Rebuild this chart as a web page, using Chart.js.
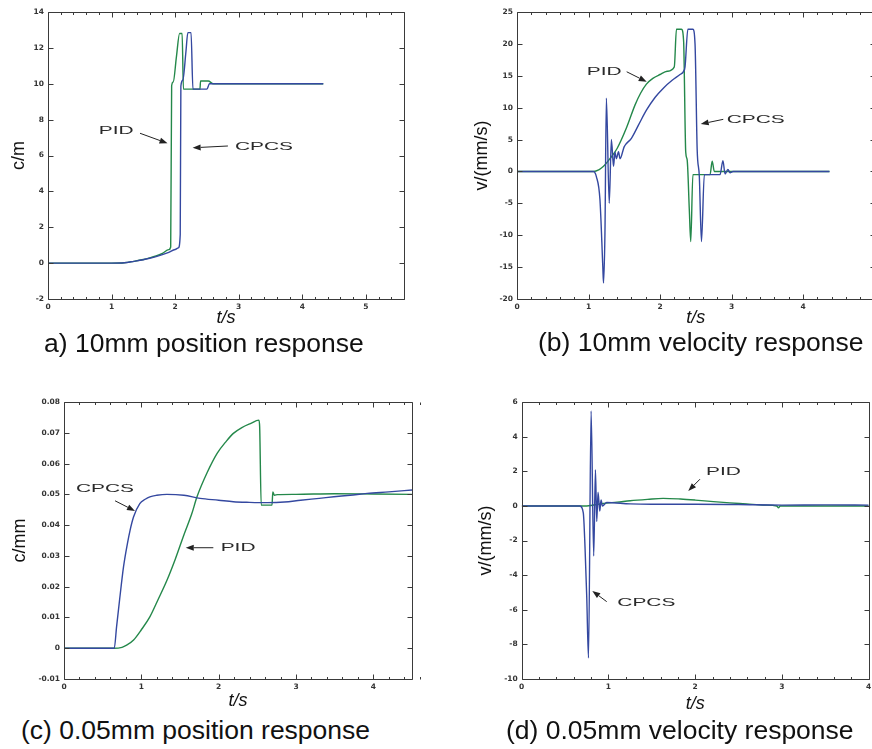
<!DOCTYPE html>
<html><head><meta charset="utf-8">
<script src="https://cdn.jsdelivr.net/npm/chart.js@4.4.1/dist/chart.umd.min.js"></script>
<style>
html,body{margin:0;padding:0;background:#fff;width:872px;height:749px;overflow:hidden;position:relative;}
canvas{position:absolute;}
.cap{position:absolute;font-family:'Liberation Sans',Arial,sans-serif;font-size:26.5px;line-height:26.5px;color:#111;white-space:nowrap;}
</style></head><body>
<canvas id="cA"></canvas>
<canvas id="cB"></canvas>
<canvas id="cC"></canvas>
<canvas id="cD"></canvas>
<div class="cap" style="left:44px;top:330px">a) 10mm position response</div>
<div class="cap" style="left:538px;top:329px">(b) 10mm velocity response</div>
<div class="cap" style="left:21px;top:717px">(c) 0.05mm position response</div>
<div class="cap" style="left:506px;top:717px">(d) 0.05mm velocity response</div>
<script>
// ---------- data (a) 10mm position ----------
const aTimePID  = [0, 1.0, 1.2, 1.35, 1.5, 1.6, 1.7, 1.8, 1.9, 1.93, 1.945, 1.97, 2.02, 2.07, 2.11, 2.13, 2.39, 2.4, 2.52, 2.6, 4.33];
const aPID      = [0, 0, 0.02, 0.1, 0.2, 0.29, 0.4, 0.55, 0.75, 0.9, 9.9, 10.1, 11.5, 12.8, 12.8, 9.7, 9.7, 10.15, 10.15, 10.0, 10.0];
const aTimeCPCS = [0, 1.0, 1.2, 1.35, 1.5, 1.6, 1.7, 1.8, 1.9, 2.0, 2.05, 2.08, 2.09, 2.12, 2.17, 2.2, 2.25, 2.28, 2.5, 2.54, 4.33];
const aCPCS     = [0, 0, 0.02, 0.1, 0.19, 0.27, 0.36, 0.47, 0.6, 0.76, 0.85, 1.6, 9.86, 10.2, 11.8, 12.85, 12.85, 9.7, 9.7, 10.0, 10.0];
const aXLabels  = ['0','1','2','3','4','5'];
const aYLabels  = ['-2','0','2','4','6','8','10','12','14'];

// ---------- data (b) 10mm velocity ----------
const bTimePID  = [0, 1.07, 1.15, 1.21, 1.3, 1.4, 1.53, 1.65, 1.73, 1.81, 1.9, 2.0, 2.1, 2.2, 2.23, 2.3, 2.33, 2.36, 2.38, 2.41, 2.43, 2.46, 2.7, 2.73, 2.76, 2.78, 4.37];
const bPID      = [0, 0, 0.3, 0.8, 2.0, 3.6, 6.8, 10.4, 12.3, 13.7, 14.6, 15.2, 15.7, 16.4, 22.3, 22.3, 20.5, 3.0, 1.8, -6, -11, -0.5, -0.5, 1.6, 0.0, 0.0, 0.0];
const bTimeCPCS = [0, 1.07, 1.11, 1.16, 1.2, 1.21, 1.23, 1.25, 1.29, 1.32, 1.35, 1.37, 1.39, 1.42, 1.44, 1.5, 1.6, 1.7, 1.81, 1.93, 2.05, 2.17, 2.28, 2.33, 2.35, 2.39, 2.46, 2.49, 2.52, 2.55, 2.58, 2.62, 2.84, 2.88, 2.91, 2.95, 2.98, 3.02, 4.37];
const bCPCS     = [0, 0, -0.8, -4.4, -14.9, -17.5, -9.7, 11.5, -5.0, 5.0, 0.8, 3.0, 2.0, 3.1, 2.0, 3.9, 5.2, 7.3, 9.6, 11.6, 13.1, 14.3, 15.2, 15.7, 16.4, 22.3, 22.3, 20.0, 3.4, -0.8, -11, -0.5, -0.5, 1.7, -0.4, 0.3, -0.2, 0, 0];
const bXLabels  = ['0','1','2','3','4','5'];
const bYLabels  = ['-20','-15','-10','-5','0','5','10','15','20','25'];

// ---------- data (c) 0.05mm position ----------
const cTimePID  = [0, 0.64, 0.75, 0.81, 0.9, 1.0, 1.11, 1.22, 1.33, 1.44, 1.55, 1.65, 1.72, 1.85, 1.98, 2.1, 2.19, 2.3, 2.41, 2.52, 2.53, 2.55, 2.69, 2.7, 2.72, 2.76, 3.0, 3.5, 4.0, 4.5];
const cPID      = [0, 0, 0.0003, 0.001, 0.0027, 0.006, 0.0102, 0.016, 0.022, 0.029, 0.0368, 0.0435, 0.0492, 0.057, 0.0633, 0.0673, 0.0698, 0.0717, 0.073, 0.0741, 0.072, 0.0465, 0.0465, 0.0508, 0.0497, 0.0499, 0.05, 0.0502, 0.0501, 0.05];
const cTimeCPCS = [0, 0.65, 0.68, 0.72, 0.77, 0.82, 0.855, 0.9, 0.98, 1.05, 1.11, 1.2, 1.33, 1.55, 1.76, 2.0, 2.19, 2.4, 2.63, 2.85, 3.06, 3.3, 3.49, 3.7, 3.92, 4.2, 4.5];
const cCPCS     = [0, 0, 0.007, 0.016, 0.0265, 0.034, 0.0384, 0.0427, 0.047, 0.0484, 0.0492, 0.0497, 0.05, 0.0497, 0.0487, 0.0481, 0.0476, 0.0474, 0.0473, 0.0475, 0.0481, 0.0487, 0.0492, 0.0497, 0.0503, 0.0508, 0.0514];
const cXLabels  = ['0','1','2','3','4'];
const cYLabels  = ['-0.01','0','0.01','0.02','0.03','0.04','0.05','0.06','0.07','0.08'];

// ---------- data (d) 0.05mm velocity ----------
const dTimePID  = [0, 0.75, 0.94, 1.1, 1.25, 1.45, 1.63, 1.83, 2.0, 2.21, 2.4, 2.59, 2.8, 2.94, 2.96, 2.98, 4.0];
const dPID      = [0, 0, 0.15, 0.22, 0.3, 0.38, 0.44, 0.4, 0.34, 0.25, 0.18, 0.12, 0.05, 0, -0.1, 0, 0];
const dTimeCPCS = [0, 0.67, 0.71, 0.73, 0.75, 0.77, 0.8, 0.83, 0.85, 0.865, 0.88, 0.9, 0.915, 0.93, 0.98, 1.25, 1.5, 2.0, 2.5, 3.0, 3.5, 4.0];
const dCPCS     = [0, 0, -0.4, -2.4, -5.3, -8.8, 5.5, -2.9, 2.1, -0.9, 0.8, -0.3, 0.35, 0.0, 0.2, 0.12, 0.1, 0.1, 0.08, 0.05, 0.06, 0.05];
const dXLabels  = ['0','1','2','3','4'];
const dYLabels  = ['-10','-8','-6','-4','-2','0','2','4','6'];

const seriesNames = ['CPCS', 'PID'];

// ---------- styling / layout ----------
const BLUE = '#3448a0', GREEN = '#24884a';
const FAM = "'Liberation Sans', Arial, sans-serif";

function framePlugin(spec){
  return {
    id: 'frame' + spec.id,
    afterDatasetsDraw(chart){
      const ctx = chart.ctx, a = chart.chartArea, xs = chart.scales.x, ys = chart.scales.y;
      ctx.save();
      ctx.strokeStyle = '#3a3a3a'; ctx.lineWidth = 1;
      const l = Math.round(a.left)+0.5, t = Math.round(a.top)+0.5, r = Math.round(a.right)+0.5, b = Math.round(a.bottom)+0.5;
      ctx.beginPath(); ctx.rect(l, t, r-l, b-t); ctx.stroke();
      ctx.beginPath();
      const nMinor = Math.round((spec.xMax - spec.xMin) / 0.2);
      for (let i = 0; i <= nMinor; i++){
        const v = spec.xMin + i*0.2;
        const major = (i % 5) === 0;
        const len = major ? 5 : 2.5;
        const px = Math.round(xs.getPixelForValue(v)) + 0.5;
        ctx.moveTo(px, b); ctx.lineTo(px, b-len);
        ctx.moveTo(px, t); ctx.lineTo(px, t+len);
      }
      ys.ticks.forEach(tk => {
        const py = Math.round(ys.getPixelForValue(tk.value)) + 0.5;
        ctx.moveTo(l, py); ctx.lineTo(l+5, py);
        ctx.moveTo(r, py); ctx.lineTo(r-5, py);
      });
      ctx.stroke();
      spec.notes.forEach(n => {
        const x1 = xs.getPixelForValue(n.from[0]), y1 = ys.getPixelForValue(n.from[1]);
        const x2 = xs.getPixelForValue(n.to[0]),   y2 = ys.getPixelForValue(n.to[1]);
        ctx.strokeStyle = '#222'; ctx.fillStyle = '#222'; ctx.lineWidth = 1;
        const ang = Math.atan2(y2-y1, x2-x1), hl = 8, hw = 3;
        const bx = x2 - hl*Math.cos(ang), by = y2 - hl*Math.sin(ang);
        ctx.beginPath(); ctx.moveTo(x1, y1); ctx.lineTo(bx, by); ctx.stroke();
        ctx.beginPath();
        ctx.moveTo(x2, y2);
        ctx.lineTo(bx + hw*Math.sin(ang), by - hw*Math.cos(ang));
        ctx.lineTo(bx - hw*Math.sin(ang), by + hw*Math.cos(ang));
        ctx.closePath(); ctx.fill();
        const tx = xs.getPixelForValue(n.at[0]), ty = ys.getPixelForValue(n.at[1]);
        ctx.save();
        ctx.translate(tx, ty); ctx.scale(1.9, 1);
        ctx.font = '11px ' + FAM; ctx.textAlign = 'left'; ctx.textBaseline = 'middle';
        ctx.fillStyle = '#2a2a2a';
        ctx.fillText(n.text, 0, 0);
        ctx.restore();
      });
      ctx.restore();
    }
  };
}

function build(spec){
  const el = document.getElementById(spec.id);
  const [bl, bt, W, H] = spec.box;
  const [L, T, R, B] = spec.area;
  el.width = W; el.height = H;
  el.style.left = bl + 'px'; el.style.top = bt + 'px';
  el.style.width = W + 'px'; el.style.height = H + 'px';
  const yW = L - bl, padTop = T - bt, padRight = bl + W - R, xH = bt + H - B;
  const xVals = spec.xLabels.map(Number), yVals = spec.yLabels.map(Number);
  const tickFont = {family: "'DejaVu Sans', sans-serif", size: 7.5, weight: 'bold'};
  new Chart(el, {
    type: 'line',
    data: {
      datasets: spec.series.map(s => ({
        label: s.label,
        data: s.t.map((t, i) => ({x: t, y: s.v[i]})),
        borderColor: s.color, borderWidth: 1.4, pointRadius: 0,
        cubicInterpolationMode: 'monotone', fill: false
      }))
    },
    options: {
      responsive: false, animation: false, devicePixelRatio: 1,
      layout: {padding: {left: 0, top: padTop, right: padRight, bottom: 0}},
      plugins: {legend: {display: false}, tooltip: {enabled: false}},
      scales: {
        x: {
          type: 'linear', min: spec.xMin, max: spec.xMax,
          afterFit: s => { s.height = xH; },
          afterBuildTicks: s => { s.ticks = xVals.map(v => ({value: v})); },
          grid: {display: false, drawTicks: false}, border: {display: false},
          ticks: {padding: 4, font: tickFont, color: '#333', maxRotation: 0, autoSkip: false,
                  callback: (v, i) => spec.xLabels[i]},
          title: {display: true, text: spec.xTitle, color: '#111',
                  font: {family: FAM, size: 18, style: 'italic'},
                  padding: {top: 0, bottom: spec.xTitlePad}}
        },
        y: {
          type: 'linear', min: spec.yMin, max: spec.yMax,
          afterFit: s => { s.width = yW; },
          afterBuildTicks: s => { s.ticks = yVals.map(v => ({value: v})); },
          grid: {display: false, drawTicks: false}, border: {display: false},
          ticks: {padding: 4, font: tickFont, color: '#333', autoSkip: false,
                  callback: (v, i) => spec.yLabels[i]},
          title: {display: true, text: spec.yTitle, color: '#111',
                  font: {family: FAM, size: 18},
                  padding: {top: spec.yTitlePad, bottom: 0}}
        }
      }
    },
    plugins: [framePlugin(spec)]
  });
}

build({
  id: 'cA', box: [0, 0, 440, 334], area: [48, 12, 404, 299],
  xMin: 0, xMax: 5.6, yMin: -2, yMax: 14,
  xLabels: aXLabels, yLabels: aYLabels,
  xTitle: 't/s', yTitle: 'c/m', xTitlePad: 5.2, yTitlePad: 8.2,
  series: [
    {label: seriesNames[0], t: aTimeCPCS, v: aCPCS, color: BLUE},
    {label: seriesNames[1], t: aTimePID, v: aPID, color: GREEN}
  ],
  notes: [
    {text: 'PID',  at: [0.80, 7.35], from: [1.447, 7.24], to: [1.88, 6.68]},
    {text: 'CPCS', at: [2.94, 6.49], from: [2.83, 6.53], to: [2.275, 6.43]}
  ]
});

build({
  id: 'cB', box: [460, 0, 430, 334], area: [517, 12, 874.5, 299],
  xMin: 0, xMax: 5, yMin: -20, yMax: 25,
  xLabels: bXLabels, yLabels: bYLabels,
  xTitle: 't/s', yTitle: 'v/(mm/s)', xTitlePad: 5.2, yTitlePad: 10.9,
  series: [
    {label: seriesNames[0], t: bTimeCPCS, v: bCPCS, color: BLUE},
    {label: seriesNames[1], t: bTimePID, v: bPID, color: GREEN}
  ],
  notes: [
    {text: 'PID',  at: [0.975, 15.55], from: [1.534, 15.63], to: [1.814, 14.06]},
    {text: 'CPCS', at: [2.933, 8.06], from: [2.885, 8.17], to: [2.569, 7.43]}
  ]
});

build({
  id: 'cC', box: [0, 380, 440, 334], area: [64, 402, 412, 679],
  xMin: 0, xMax: 4.5, yMin: -0.01, yMax: 0.08,
  xLabels: cXLabels, yLabels: cYLabels,
  xTitle: 't/s', yTitle: 'c/mm', xTitlePad: 2.4, yTitlePad: 9.2,
  series: [
    {label: seriesNames[0], t: cTimeCPCS, v: cCPCS, color: BLUE},
    {label: seriesNames[1], t: cTimePID, v: cPID, color: GREEN}
  ],
  notes: [
    {text: 'CPCS', at: [0.155, 0.0517], from: [0.66, 0.0479], to: [0.918, 0.0446]},
    {text: 'PID',  at: [2.026, 0.0327], from: [1.931, 0.03265], to: [1.574, 0.03265]}
  ]
});

build({
  id: 'cD', box: [460, 380, 430, 338], area: [521.7, 402.3, 868.7, 678.7],
  xMin: 0, xMax: 4, yMin: -10, yMax: 6,
  xLabels: dXLabels, yLabels: dYLabels,
  xTitle: 't/s', yTitle: 'v/(mm/s)', xTitlePad: 3.2, yTitlePad: 15,
  series: [
    {label: seriesNames[0], t: dTimeCPCS, v: dCPCS, color: BLUE},
    {label: seriesNames[1], t: dTimePID, v: dPID, color: GREEN}
  ],
  notes: [
    {text: 'PID',  at: [2.125, 1.96], from: [2.055, 1.55], to: [1.92, 0.87]},
    {text: 'CPCS', at: [1.102, -5.63], from: [0.98, -5.54], to: [0.814, -4.92]}
  ]
});
</script>
</body></html>
